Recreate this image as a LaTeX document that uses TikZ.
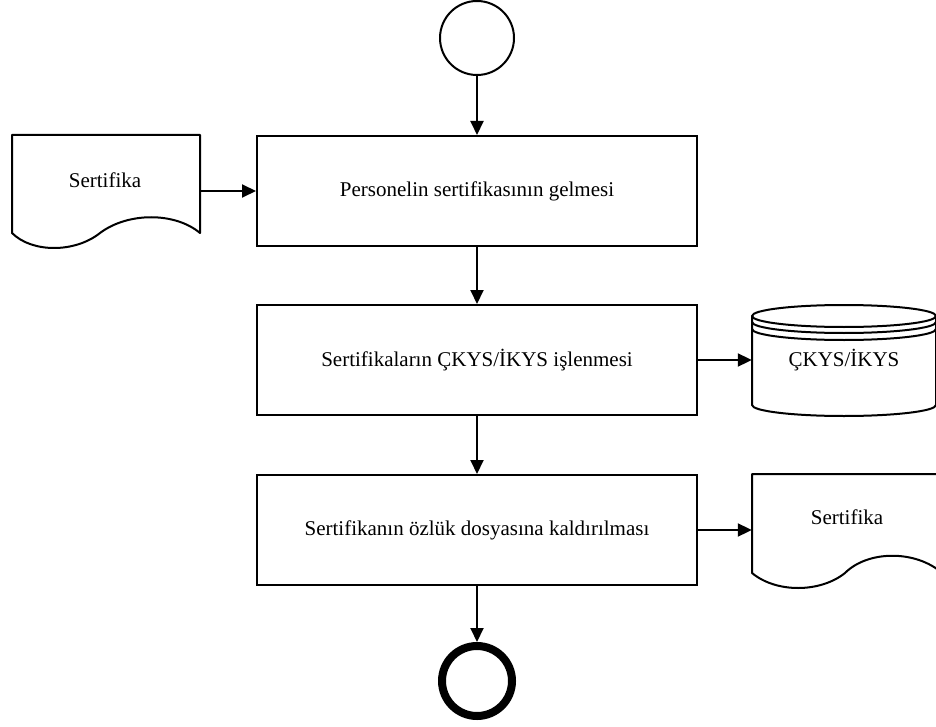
\documentclass[tikz,border=0pt]{standalone}
\usepackage{fontspec}
\setmainfont{Liberation Serif}
\usetikzlibrary{arrows.meta}
\begin{document}
\begin{tikzpicture}[x=1pt,y=-1pt,
  every node/.style={font=\fontsize{21}{25}\selectfont},
  line/.style={line width=2pt, line join=round},
  procbox/.style={draw, line width=2pt, minimum width=440pt, minimum height=110pt, inner sep=0pt},
  flow/.style={line width=2pt, -{Triangle[length=14pt,width=13pt]}}
]
\useasboundingbox (0,0) rectangle (936,727);
\clip (0,0) rectangle (936,727);

% start and end events
\node[draw, circle, line width=2pt, minimum size=74pt, inner sep=0pt] (start) at (477,38) {};
\node[draw, circle, line width=8pt, minimum size=70pt, inner sep=0pt] (stop) at (477,681) {};

% process steps
\node[procbox] (p1) at (477,191) {Personelin sertifikasının gelmesi};
\node[procbox] (p2) at (477,360) {Sertifikaların ÇKYS/İKYS işlenmesi};
\node[procbox] (p3) at (477,530) {Sertifikanın özlük dosyasına kaldırılması};

% incoming document
\draw[line] (12,233) -- (12,135) -- (200,135) -- (200,233)
  .. controls (175,212) and (128,212) .. (100,233)
  .. controls (75,253) and (32,253) .. (12,233) -- cycle;
\node[minimum width=188pt, minimum height=98pt, inner sep=0pt] (doc1) at (106,184) {};
\node (doc1t) at (105,180) {Sertifika};

% database (y axis points down, so angle 90 is the lower side)
\draw[line] (752,316) -- (752,405) arc[start angle=180, end angle=0, x radius=92, y radius=11]
  -- (936,316);
\draw[line] (844,316) ellipse[x radius=92, y radius=11];
\draw[line] (752,322) arc[start angle=180, end angle=0, x radius=92, y radius=11];
\draw[line] (752,329) arc[start angle=180, end angle=0, x radius=92, y radius=11];
\node[minimum width=184pt, minimum height=89pt, inner sep=0pt] (db) at (844,360) {ÇKYS/İKYS};

% outgoing document
\draw[line] (752,573) -- (752,474) -- (942,474) -- (942,573)
  .. controls (916,550) and (868,550) .. (845,573)
  .. controls (820,593) and (776,593) .. (752,573) -- cycle;
\node[minimum width=190pt, minimum height=99pt, inner sep=0pt] (doc2) at (847,523) {};
\node (doc2t) at (847,517) {Sertifika};

% connectors
\draw[flow] (start) -- (p1);
\draw[flow] (p1.west -| doc1.east) -- (p1.west);
\draw[flow] (p1) -- (p2);
\draw[flow] (p2.east) -- (p2.east -| db.west);
\draw[flow] (p2) -- (p3);
\draw[flow] (p3.east) -- (p3.east -| doc2.west);
\draw[flow] (p3) -- (stop);
\end{tikzpicture}
\end{document}
